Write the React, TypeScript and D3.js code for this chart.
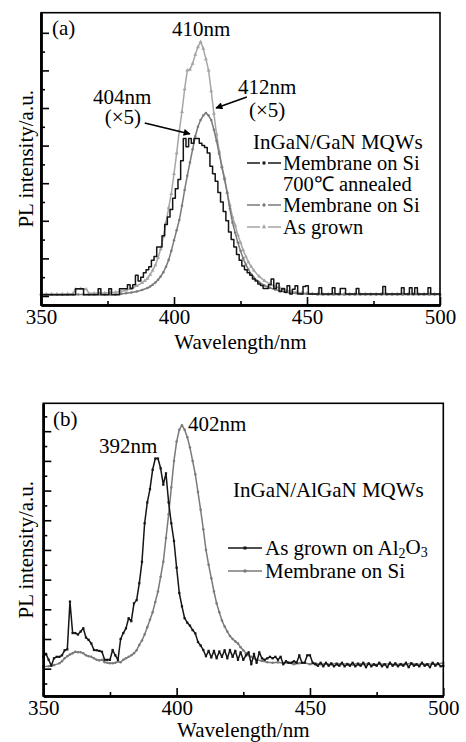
import React, { useEffect, useRef } from "react";
import * as d3 from "d3";

type Pt = [number, number];

const FONT = "'Liberation Serif', 'Times New Roman', serif";

// shared x axis (nm)
const xTicks = [350, 400, 450, 500];
const xMinor = [375, 425, 475];

// y ticks, arbitrary units (no labels in the figure)
const yMajorA = [0, 1, 2, 3, 4, 5, 6, 7];
const yMinorA = [0.5, 1.5, 2.5, 3.5, 4.5, 5.5, 6.5];
const yMajorB = [0, 1, 2, 3, 4, 5, 6, 7, 8];
const yMinorB = [-0.5, 0.5, 1.5, 2.5, 3.5, 4.5, 5.5, 6.5, 7.5, 8.5];

// (a) InGaN/GaN MQWs — membrane on Si, 700℃ annealed (x5)
const annealedA: Pt[] = [
  [350, 0.03], [353, 0.03], [356, 0.03], [359, 0.03], [362, 0.03], [364, 0.19], [368, 0.03], [371, 0.03],
  [372, 0.19], [373, 0.03], [375, 0.03], [376, 0.19], [377, 0.03], [379, 0.03], [380, 0.19], [382, 0.19],
  [383, 0.3], [384, 0.2], [385, 0.3], [386, 0.55], [387, 0.4], [388, 0.5], [389, 0.62], [390, 0.7],
  [391, 0.78], [392, 0.95], [393, 1.05], [394, 1.3], [395, 1.3], [396, 1.6], [397, 1.9], [398, 2.1],
  [399, 2.3], [400, 2.6], [401, 2.85], [402, 3.1], [403, 3.6], [404, 4.19], [405, 3.97], [406, 4.19],
  [407, 4.06], [408, 4.19], [409, 4.19], [410, 4.06], [411, 4.0], [412, 3.95], [413, 3.8], [414, 3.45],
  [415, 3.25], [416, 3.05], [417, 2.75], [418, 2.5], [419, 2.25], [420, 2.0], [421, 1.7], [422, 1.5],
  [423, 1.3], [424, 1.1], [425, 0.95], [426, 0.8], [427, 0.7], [428, 0.62], [429, 0.55], [430, 0.45],
  [431, 0.4], [432, 0.32], [433, 0.28], [434, 0.2], [435, 0.2], [436, 0.3], [437, 0.45], [438, 0.2],
  [439, 0.34], [440, 0.12], [441, 0.2], [442, 0.1], [443, 0.27], [444, 0.05], [445, 0.18], [446, 0.27],
  [447, 0.05], [448, 0.05], [449, 0.25], [450, 0.27], [451, 0.05], [454, 0.05], [455, 0.22], [456, 0.05],
  [459, 0.05], [460, 0.22], [461, 0.05], [464, 0.2], [465, 0.05], [468, 0.05], [469, 0.2], [470, 0.05],
  [474, 0.05], [478, 0.05], [479, 0.25], [480, 0.05], [485, 0.05], [486, 0.22], [487, 0.05], [488, 0.05],
  [489, 0.22], [490, 0.05], [491, 0.22], [492, 0.05], [495, 0.05], [496, 0.22], [497, 0.05], [500, 0.05],
];

// (a) membrane on Si (x5)
const membraneA: Pt[] = [
  [350, 0.03], [352, 0.03], [354, 0.03], [356, 0.03], [358, 0.03], [360, 0.03], [362, 0.04], [364, 0.04],
  [366, 0.04], [368, 0.04], [370, 0.04], [372, 0.04], [374, 0.04], [376, 0.04], [378, 0.04], [380, 0.05],
  [382, 0.07], [384, 0.09], [386, 0.12], [388, 0.16], [390, 0.21], [391, 0.25], [392, 0.3], [393, 0.36],
  [394, 0.43], [395, 0.52], [396, 0.63], [397, 0.78], [398, 0.96], [399, 1.2], [400, 1.48], [401, 1.75],
  [402, 2.02], [403, 2.4], [404, 2.82], [405, 3.2], [406, 3.55], [407, 3.9], [408, 4.25], [409, 4.5],
  [410, 4.68], [411, 4.8], [412, 4.87], [413, 4.8], [414, 4.68], [415, 4.42], [416, 4.12], [417, 3.78],
  [418, 3.42], [419, 3.1], [420, 2.75], [421, 2.32], [422, 1.95], [423, 1.68], [424, 1.42], [425, 1.2],
  [426, 1.0], [427, 0.84], [428, 0.7], [429, 0.58], [430, 0.49], [432, 0.37], [434, 0.28], [436, 0.22],
  [438, 0.17], [440, 0.13], [442, 0.1], [444, 0.08], [446, 0.07], [448, 0.06], [450, 0.05], [452, 0.05],
  [454, 0.04], [456, 0.04], [458, 0.04], [460, 0.04], [462, 0.04], [464, 0.04], [466, 0.04], [468, 0.04],
  [470, 0.04], [472, 0.04], [474, 0.04], [476, 0.04], [478, 0.04], [480, 0.04], [482, 0.04], [484, 0.04],
  [486, 0.04], [488, 0.04], [490, 0.04], [492, 0.04], [494, 0.04], [496, 0.04], [498, 0.04], [500, 0.04],
];

// (a) as grown
const grownA: Pt[] = [
  [350, 0.05], [352, 0.05], [354, 0.05], [356, 0.05], [358, 0.05], [360, 0.06], [362, 0.06], [363, 0.18],
  [365, 0.19], [367, 0.18], [368, 0.07], [370, 0.07], [372, 0.08], [374, 0.08], [376, 0.09], [378, 0.1],
  [380, 0.12], [382, 0.15], [384, 0.2], [386, 0.27], [388, 0.35], [389, 0.4], [390, 0.46], [391, 0.56],
  [392, 0.68], [393, 0.82], [394, 1.02], [395, 1.25], [396, 1.58], [397, 1.95], [398, 2.35], [399, 2.72],
  [400, 3.25], [401, 3.8], [402, 4.4], [403, 4.9], [404, 5.5], [405, 6.0], [406, 6.02], [407, 6.18],
  [408, 6.42], [409, 6.62], [410, 6.76], [411, 6.58], [412, 6.3], [413, 6.0], [414, 5.45], [415, 4.85],
  [416, 4.3], [417, 3.85], [418, 3.45], [419, 3.15], [420, 2.75], [421, 2.42], [422, 2.1], [423, 1.88],
  [424, 1.62], [425, 1.42], [426, 1.22], [427, 1.05], [428, 0.9], [429, 0.78], [430, 0.68], [432, 0.52],
  [434, 0.4], [436, 0.32], [438, 0.25], [440, 0.2], [442, 0.15], [444, 0.12], [446, 0.1], [448, 0.08],
  [450, 0.07], [452, 0.06], [454, 0.06], [456, 0.05], [458, 0.05], [460, 0.05], [462, 0.05], [464, 0.05],
  [466, 0.05], [468, 0.05], [470, 0.05], [472, 0.05], [474, 0.05], [476, 0.05], [478, 0.05], [480, 0.05],
  [482, 0.05], [484, 0.05], [486, 0.05], [488, 0.05], [490, 0.05], [492, 0.05], [494, 0.05], [496, 0.05],
  [498, 0.05], [500, 0.05],
];

// (b) InGaN/AlGaN MQWs — as grown on Al2O3
const grownB: Pt[] = [
  [350, 0.4], [351, 0.5], [352, 0.3], [353, 0.1], [354, 0.35], [355, 0.4], [356, 0.4], [357, 0.45],
  [358, 0.62], [359, 0.65], [360, 2.26], [361, 1.2], [362, 1.2], [363, 1.15], [364, 1.25], [365, 1.36],
  [366, 1.05], [367, 0.97], [368, 0.85], [369, 0.63], [370, 0.62], [371, 0.6], [372, 0.57], [373, 0.3],
  [374, 0.3], [375, 0.3], [376, 0.63], [377, 0.45], [378, 0.3], [379, 1.0], [380, 1.2], [381, 1.36],
  [382, 1.7], [383, 1.6], [384, 2.2], [385, 2.31], [386, 2.88], [387, 3.6], [388, 4.9], [389, 5.6],
  [390, 6.05], [391, 6.7], [392, 7.08], [393, 7.08], [394, 6.75], [395, 6.2], [396, 6.58], [397, 5.6],
  [398, 4.9], [399, 4.3], [400, 3.4], [401, 2.55], [402, 2.1], [403, 1.7], [404, 1.55], [405, 1.45],
  [406, 1.3], [407, 1.19], [408, 0.9], [409, 0.78], [410, 0.63], [411, 0.42], [412, 0.6], [413, 0.38],
  [414, 0.6], [415, 0.35], [416, 0.58], [417, 0.4], [418, 0.62], [419, 0.35], [420, 0.63], [421, 0.4],
  [422, 0.6], [423, 0.3], [424, 0.55], [425, 0.3], [426, 0.45], [427, 0.55], [428, 0.15], [429, 0.5],
  [430, 0.2], [431, 0.55], [432, 0.35], [433, 0.3], [434, 0.35], [435, 0.4], [436, 0.35], [437, 0.4],
  [438, 0.3], [439, 0.4], [440, 0.15], [441, 0.25], [442, 0.2], [443, 0.2], [444, 0.25], [445, 0.2],
  [446, 0.45], [447, 0.2], [448, 0.2], [449, 0.45], [450, 0.45], [451, 0.2], [452, 0.15], [453, 0.1],
  [454, 0.2], [455, 0.08], [456, 0.2], [457, 0.1], [458, 0.18], [459, 0.08], [460, 0.15], [461, 0.1],
  [462, 0.2], [463, 0.08], [464, 0.15], [465, 0.1], [466, 0.2], [467, 0.08], [468, 0.15], [469, 0.1],
  [470, 0.2], [471, 0.05], [472, 0.18], [473, 0.08], [474, 0.15], [475, 0.1], [476, 0.2], [477, 0.08],
  [478, 0.15], [479, 0.05], [480, 0.2], [481, 0.1], [482, 0.18], [483, 0.08], [484, 0.15], [485, 0.1],
  [486, 0.2], [487, 0.05], [488, 0.18], [489, 0.1], [490, 0.15], [491, 0.08], [492, 0.2], [493, 0.1],
  [494, 0.15], [495, 0.05], [496, 0.2], [497, 0.1], [498, 0.18], [499, 0.08], [500, 0.1],
];

// (b) membrane on Si
const membraneB: Pt[] = [
  [350, 0.07], [352, 0.08], [354, 0.12], [356, 0.18], [357, 0.25], [358, 0.35], [359, 0.42], [360, 0.48],
  [361, 0.52], [362, 0.57], [363, 0.55], [364, 0.55], [365, 0.52], [366, 0.45], [367, 0.42], [368, 0.4],
  [369, 0.35], [370, 0.3], [371, 0.28], [372, 0.3], [373, 0.22], [374, 0.2], [375, 0.18], [376, 0.18],
  [377, 0.2], [378, 0.24], [379, 0.22], [380, 0.3], [381, 0.35], [382, 0.4], [383, 0.45], [384, 0.52],
  [385, 0.62], [386, 0.8], [387, 0.95], [388, 1.15], [389, 1.4], [390, 1.65], [391, 1.9], [392, 2.25],
  [393, 2.6], [394, 3.1], [395, 3.6], [396, 4.4], [397, 5.2], [398, 6.1], [399, 7.0], [400, 7.65],
  [401, 8.05], [402, 8.2], [403, 8.05], [404, 7.8], [405, 7.45], [406, 7.0], [407, 6.55], [408, 5.95],
  [409, 5.35], [410, 4.7], [411, 4.0], [412, 3.5], [413, 3.05], [414, 2.6], [415, 2.2], [416, 1.9],
  [417, 1.62], [418, 1.42], [419, 1.25], [420, 1.1], [421, 1.0], [422, 0.92], [423, 0.85], [424, 0.72],
  [425, 0.62], [426, 0.52], [427, 0.45], [428, 0.4], [429, 0.35], [430, 0.3], [432, 0.26], [434, 0.22],
  [436, 0.2], [438, 0.22], [440, 0.18], [442, 0.2], [444, 0.15], [446, 0.18], [448, 0.2], [450, 0.15],
  [452, 0.18], [454, 0.15], [456, 0.17], [458, 0.14], [460, 0.18], [462, 0.15], [464, 0.17], [466, 0.13],
  [468, 0.18], [470, 0.15], [472, 0.17], [474, 0.13], [476, 0.16], [478, 0.15], [480, 0.17], [482, 0.13],
  [484, 0.16], [486, 0.15], [488, 0.18], [490, 0.14], [492, 0.16], [494, 0.15], [496, 0.17], [498, 0.15],
  [500, 0.2],
];

const BLACK = "#151515";
const GRAY = "#7a7a7a";
const LIGHT = "#a6a6a6";

type Series = { data: Pt[]; color: string; marker: "none" | "square" | "circle" | "triangle"; step?: boolean };

type Panel = {
  left: number; right: number; top: number; bottom: number;
  yDomain: [number, number];
  yMajor: number[]; yMinor: number[];
  titleGap: number;
  series: Series[];
};

function symbolType(m: Series["marker"]) {
  return m === "square" ? d3.symbolSquare : m === "triangle" ? d3.symbolTriangle : d3.symbolCircle;
}

function drawMarkers(g: any, s: Series, x: any, y: any) {
  if (s.marker === "none") return;
  const size = s.marker === "triangle" ? 7 : 5;
  g.append("g")
    .selectAll("path")
    .data(s.data)
    .join("path")
    .attr("transform", (d: Pt) => `translate(${x(d[0])},${y(d[1])})`)
    .attr("d", d3.symbol().type(symbolType(s.marker)).size(size)())
    .attr("fill", s.color);
}

function drawPanel(svg: any, p: Panel) {
  const x = d3.scaleLinear().domain([350, 500]).range([p.left, p.right]);
  const y = d3.scaleLinear().domain(p.yDomain).range([p.bottom, p.top]);
  const g = svg.append("g");

  // curves
  p.series.forEach((s) => {
    const line = d3.line<Pt>().x((d) => x(d[0])).y((d) => y(d[1]));
    if (s.step) line.curve(d3.curveStep);
    g.append("path")
      .datum(s.data)
      .attr("d", line)
      .attr("fill", "none")
      .attr("stroke", s.color)
      .attr("stroke-width", 1.5)
      .attr("stroke-linejoin", "round");
    drawMarkers(g, s, x, y);
  });

  // frame
  g.append("rect")
    .attr("x", p.left).attr("y", p.top)
    .attr("width", p.right - p.left).attr("height", p.bottom - p.top)
    .attr("fill", "none").attr("stroke", "#000").attr("stroke-width", 1.6);

  const styleAxis = (a: any) => {
    a.select(".domain").attr("stroke", "#000").attr("stroke-width", 2.4);
    a.selectAll(".tick line").attr("stroke", "#000").attr("stroke-width", 1.6);
    a.selectAll("text").attr("font-size", 21).attr("font-family", FONT).attr("fill", "#000");
  };

  g.append("g")
    .attr("transform", `translate(0,${p.bottom})`)
    .call(d3.axisBottom(x).tickValues(xTicks).tickSizeInner(-8).tickSizeOuter(0).tickPadding(4).tickFormat(d3.format("d")))
    .call(styleAxis);
  g.append("g")
    .attr("transform", `translate(0,${p.bottom})`)
    .call(d3.axisBottom(x).tickValues(xMinor).tickSizeInner(-4).tickSizeOuter(0).tickFormat(() => ""))
    .call(styleAxis);
  g.append("g")
    .attr("transform", `translate(${p.left},0)`)
    .call(d3.axisLeft(y).tickValues(p.yMajor).tickSizeInner(-8).tickSizeOuter(0).tickFormat(() => ""))
    .call(styleAxis);
  g.append("g")
    .attr("transform", `translate(${p.left},0)`)
    .call(d3.axisLeft(y).tickValues(p.yMinor).tickSizeInner(-4).tickSizeOuter(0).tickFormat(() => ""))
    .call(styleAxis);

  // axis titles
  g.append("text")
    .attr("x", (p.left + p.right) / 2).attr("y", p.bottom + p.titleGap)
    .attr("text-anchor", "middle").attr("dy", "0.35em")
    .attr("font-size", 21).attr("font-family", FONT)
    .text("Wavelength/nm");
  g.append("text")
    .attr("transform", `translate(26,${(p.top + p.bottom) / 2}) rotate(-90)`)
    .attr("text-anchor", "middle").attr("dy", "0.35em")
    .attr("font-size", 21).attr("font-family", FONT)
    .text("PL intensity/a.u.");

  return { g, x, y };
}

function label(g: any, px: number, py: number, txt: string, anchor = "middle", size = 21) {
  return g.append("text")
    .attr("x", px).attr("y", py).attr("dy", "0.35em")
    .attr("text-anchor", anchor)
    .attr("font-size", size).attr("font-family", FONT).attr("fill", "#000")
    .text(txt);
}

function legendLine(g: any, x0: number, x1: number, py: number, color: string, marker: Series["marker"], split: boolean) {
  const mid = (x0 + x1) / 2;
  const segs = split ? [[x0, mid - 4], [mid + 4, x1]] : [[x0, x1]];
  segs.forEach(([a, b]) => {
    g.append("line").attr("x1", a).attr("x2", b).attr("y1", py).attr("y2", py).attr("stroke", color).attr("stroke-width", 1.5);
  });
  g.append("path")
    .attr("transform", `translate(${mid},${py})`)
    .attr("d", d3.symbol().type(symbolType(marker)).size(9)())
    .attr("fill", color);
}

function arrow(g: any, x1: number, y1: number, x2: number, y2: number) {
  g.append("line")
    .attr("x1", x1).attr("y1", y1).attr("x2", x2).attr("y2", y2)
    .attr("stroke", "#000").attr("stroke-width", 1.6)
    .attr("marker-end", "url(#arrowHead)");
}

export default function App() {
  const ref = useRef<SVGSVGElement>(null);

  useEffect(() => {
    const svg = d3.select(ref.current);
    svg.selectAll("*").remove();

    svg.append("rect").attr("width", 466).attr("height", 742).attr("fill", "#fff");

    svg.append("defs")
      .append("marker")
      .attr("id", "arrowHead")
      .attr("viewBox", "0 0 10 10")
      .attr("refX", 9).attr("refY", 5)
      .attr("markerWidth", 10).attr("markerHeight", 7)
      .attr("markerUnits", "userSpaceOnUse")
      .attr("orient", "auto")
      .append("path").attr("d", "M0,0 L10,5 L0,10 z").attr("fill", "#000");

    // ---- panel (a)
    const a = drawPanel(svg, {
      left: 41, right: 440, top: 12.7, bottom: 305,
      yDomain: [-0.24, 7.535],
      yMajor: yMajorA, yMinor: yMinorA,
      titleGap: 37,
      series: [
        { data: grownA, color: LIGHT, marker: "triangle" },
        { data: membraneA, color: GRAY, marker: "circle" },
        { data: annealedA, color: BLACK, marker: "none", step: true },
      ],
    });
    label(a.g, a.x(354.1), a.y(7.13), "(a)", "start");
    label(a.g, a.x(410.2), a.y(7.1), "410nm");
    label(a.g, a.x(380.5), a.y(5.29), "404nm");
    label(a.g, a.x(380.8), a.y(4.76), "(×5)");
    label(a.g, a.x(435), a.y(5.56), "412nm");
    label(a.g, a.x(435), a.y(4.95), "(×5)");
    arrow(a.g, a.x(389), a.y(4.6), a.x(406), a.y(4.31));
    arrow(a.g, a.x(427.4), a.y(5.29), a.x(415.8), a.y(5.0));

    label(a.g, 253, 142, "InGaN/GaN MQWs", "start");
    legendLine(a.g, 247, 281, 163, BLACK, "square", true);
    label(a.g, 283, 163, "Membrane on Si", "start", 20.5);
    label(a.g, 283, 184, "700℃ annealed", "start", 20.5);
    legendLine(a.g, 247, 281, 205, GRAY, "circle", true);
    label(a.g, 283, 205, "Membrane on Si", "start", 20.5);
    legendLine(a.g, 247, 281, 227, LIGHT, "triangle", true);
    label(a.g, 283, 227, "As grown", "start", 20.5);

    // ---- panel (b)
    const b = drawPanel(svg, {
      left: 43.3, right: 443.3, top: 403.3, bottom: 696,
      yDomain: [-0.92, 8.94],
      yMajor: yMajorB, yMinor: yMinorB,
      titleGap: 34,
      series: [
        { data: membraneB, color: GRAY, marker: "circle" },
        { data: grownB, color: BLACK, marker: "square" },
      ],
    });
    label(b.g, b.x(353.6), b.y(8.41), "(b)", "start");
    label(b.g, b.x(381.8), b.y(7.53), "392nm");
    label(b.g, b.x(404.3), b.y(8.27), "402nm", "start");

    label(b.g, 233, 490, "InGaN/AlGaN MQWs", "start");
    legendLine(b.g, 228, 262, 548, BLACK, "square", false);
    const t = label(b.g, 265, 548, "As grown on Al", "start");
    t.append("tspan").attr("font-size", 14).attr("dy", "0.22em").text("2");
    t.append("tspan").attr("dy", "-0.22em").text("O");
    t.append("tspan").attr("font-size", 14).attr("dy", "0.22em").text("3");
    legendLine(b.g, 228, 262, 571, GRAY, "circle", false);
    label(b.g, 265, 571, "Membrane on Si", "start");
  }, []);

  return (
    <svg
      ref={ref}
      width={466}
      height={742}
      style={{ position: "absolute", left: 0, top: 0, display: "block" }}
    />
  );
}
